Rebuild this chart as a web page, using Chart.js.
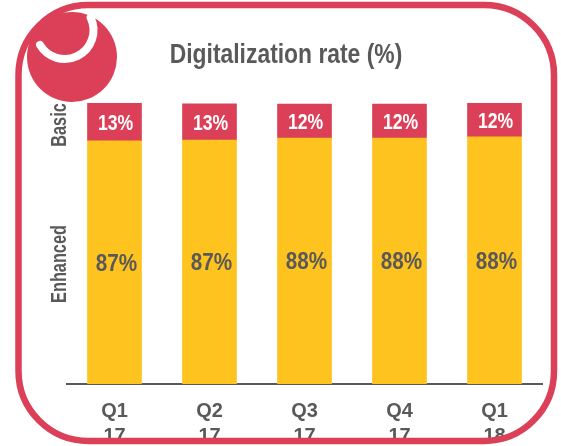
<!DOCTYPE html>
<html><head><meta charset="utf-8">
<style>html,body{margin:0;padding:0;background:#fff}canvas{display:block}</style>
<script src="https://cdn.jsdelivr.net/npm/chart.js@4"></script></head>
<body><canvas id="c" width="561" height="446" style="width:561px;height:446px"></canvas>
<script>
const categories = [["Q1","17"],["Q2","17"],["Q3","17"],["Q4","17"],["Q1","18"]];
const enhanced = [86.5, 86.8, 87.5, 87.5, 88.0];
const basic = [13.5, 12.9, 12.1, 12.1, 12.0];
const basicLabels = ["13%","13%","12%","12%","12%"];
const enhancedLabels = ["87%","87%","88%","88%","88%"];
const titleText = "Digitalization rate (%)";
const seriesNames = ["Enhanced","Basic"];
const RED = "#DB4058", YEL = "#FFC31F", GREY = "#595959";
const FONT = '"Liberation Sans",sans-serif';

function squeezed(ctx,text,x,y,font,color,sx,rot){
  ctx.save();
  ctx.translate(x,y);
  if(rot) ctx.rotate(rot);
  ctx.scale(sx,1);
  ctx.fillStyle=color;ctx.font=font;ctx.textAlign="center";ctx.textBaseline="middle";
  ctx.fillText(text,0,0);
  ctx.restore();
}

const overlay = {
  id:"overlay",
  afterDatasetsDraw(chart){
    const {ctx} = chart;
    chart.data.datasets.forEach((ds,i)=>{
      chart.getDatasetMeta(i).data.forEach((bar,j)=>{
        const mid = (bar.y+bar.base)/2;
        if(i===1) squeezed(ctx,ds.valueLabels[j],bar.x+1,mid+2,'bold 22px '+FONT,"#fff",0.8);
        else squeezed(ctx,ds.valueLabels[j],bar.x+2,mid+2,'bold 23px '+FONT,GREY,0.9);
      });
    });
  },
  afterDraw(chart){
    const {ctx} = chart;
    squeezed(ctx,titleText,286,56,'bold 27px '+FONT,GREY,0.847);
    squeezed(ctx,seriesNames[1],60,125,'bold 22px '+FONT,GREY,0.74,-Math.PI/2);
    squeezed(ctx,seriesNames[0],60,264,'bold 22px '+FONT,GREY,0.74,-Math.PI/2);
    ctx.save();
    ctx.strokeStyle=RED;ctx.lineWidth=6.5;
    ctx.beginPath();ctx.roundRect(18.5,5,535.5,436,70);ctx.stroke();
    ctx.fillStyle=RED;
    ctx.beginPath();ctx.arc(72,57,45,0,Math.PI*2);ctx.fill();
    ctx.strokeStyle="#fff";ctx.lineWidth=8;ctx.lineCap="round";
    ctx.beginPath();ctx.arc(64.7,30.2,28.8,-0.45,2.6);ctx.stroke();
    ctx.restore();
  }
};

new Chart(document.getElementById("c"),{
  type:"bar",
  data:{labels:categories,datasets:[
    {label:seriesNames[0],data:enhanced,valueLabels:enhancedLabels,backgroundColor:YEL,borderWidth:0,barThickness:54,stack:"s"},
    {label:seriesNames[1],data:basic,valueLabels:basicLabels,backgroundColor:RED,borderWidth:0,barThickness:54,stack:"s"}
  ]},
  options:{
    responsive:false,animation:false,
    layout:{padding:{left:67,right:19,top:103,bottom:0}},
    plugins:{legend:{display:false},title:{display:false},tooltip:{enabled:false}},
    scales:{
      x:{stacked:true,grid:{display:false,drawTicks:false},border:{display:true,color:GREY,width:2},
         afterFit(s){s.height=62;},
         ticks:{color:GREY,font:{family:FONT,size:20,weight:"bold",lineHeight:1.25},padding:15,maxRotation:0,autoSkip:false}},
      y:{stacked:true,display:false,min:0,max:100}
    }
  },
  plugins:[overlay]
});
</script></body></html>
